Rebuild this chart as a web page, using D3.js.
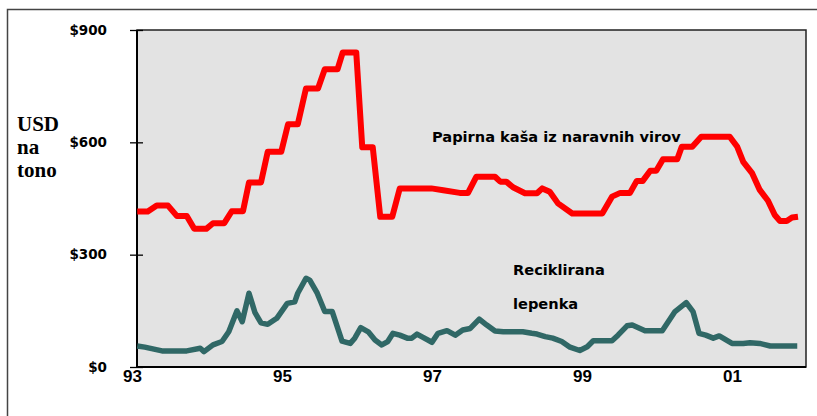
<!DOCTYPE html>
<html>
<head>
<meta charset="utf-8">
<script src="https://cdn.jsdelivr.net/npm/d3@7"></script>
<style>
  body { margin: 0; background: #fff; }
</style>
</head>
<body>
<div id="chart"></div>
<script>
// Data
const pulpYears = [1993.07, 1993.21, 1993.33, 1993.48, 1993.6, 1993.73, 1993.83, 1993.99, 1994.08, 1994.23,
  1994.33, 1994.48, 1994.56, 1994.72, 1994.81, 1994.99, 1995.08, 1995.21, 1995.32, 1995.48,
  1995.57, 1995.74, 1995.81, 1995.99, 1996.07, 1996.21, 1996.31, 1996.47, 1996.57, 1996.99,
  1997.15, 1997.37, 1997.48, 1997.59, 1997.84, 1997.91, 1997.99, 1998.08, 1998.24, 1998.4,
  1998.47, 1998.57, 1998.68, 1998.87, 1999.27, 1999.4, 1999.51, 1999.64, 1999.73, 1999.81,
  1999.91, 1999.99, 2000.08, 2000.27, 2000.33, 2000.47, 2000.59, 2000.97, 2001.07, 2001.15,
  2001.27, 2001.37, 2001.48, 2001.57, 2001.64, 2001.73, 2001.8, 2001.88];
const pulpPrices = [415, 415, 431, 431, 403, 403, 369, 369, 384, 384,
  416, 416, 493, 493, 575, 575, 648, 648, 744, 744,
  795, 795, 840, 840, 587, 587, 401, 401, 477, 477,
  472, 465, 465, 508, 508, 495, 495, 480, 464, 464,
  477, 468, 437, 410, 410, 455, 465, 465, 497, 497,
  524, 524, 555, 555, 588, 588, 615, 615, 588, 548,
  517, 473, 444, 406, 390, 390, 399, 401];

const boardYears = [1993.07, 1993.17, 1993.4, 1993.73, 1993.91, 1993.96, 1994.08, 1994.2, 1994.29, 1994.4,
  1994.47, 1994.56, 1994.64, 1994.72, 1994.81, 1994.93, 1995.07, 1995.17, 1995.21, 1995.32,
  1995.37, 1995.47, 1995.57, 1995.67, 1995.8, 1995.91, 1995.97, 1996.05, 1996.15, 1996.24,
  1996.33, 1996.41, 1996.48, 1996.57, 1996.67, 1996.73, 1996.8, 1996.88, 1997.0, 1997.08,
  1997.2, 1997.31, 1997.41, 1997.51, 1997.63, 1997.73, 1997.84, 1997.95, 1998.21, 1998.33,
  1998.4, 1998.51, 1998.61, 1998.73, 1998.84, 1998.97, 1999.07, 1999.15, 1999.4, 1999.48,
  1999.6, 1999.67, 1999.84, 2000.07, 2000.24, 2000.39, 2000.48, 2000.56, 2000.65, 2000.75,
  2000.83, 2001.0, 2001.15, 2001.24, 2001.37, 2001.51, 2001.87];
const boardPrices = [56, 53, 43, 43, 50, 41, 59, 68, 94, 150,
  121, 197, 145, 118, 114, 130, 170, 174, 197, 237,
  232, 197, 148, 148, 69, 63, 77, 105, 94, 72,
  59, 68, 90, 85, 77, 77, 88, 79, 66, 90,
  97, 85, 99, 103, 128, 112, 96, 94, 94, 90,
  88, 81, 77, 68, 53, 44, 54, 70, 70, 85,
  110, 112, 97, 97, 148, 172, 148, 90, 85, 77,
  83, 63, 63, 65, 63, 56, 56];

const xTickYears = [1993, 1995, 1997, 1999, 2001];
const xTickLabels = ["93", "95", "97", "99", "01"];
const yTicks = [0, 300, 600, 900];

// Set Dimensions
const width = 817;
const height = 416;
const plotLeft = 137;
const plotRight = 806;
const plotTop = 30;
const plotBottom = 367;

const svg = d3.select("#chart")
  .append("svg")
  .attr("width", width)
  .attr("height", height)
  .style("display", "block");

// outer frame (only top and left edges show)
svg.append("path")
  .attr("d", `M7.5,${height} V9.5 H${width}`)
  .attr("fill", "none")
  .attr("stroke", "#444")
  .attr("stroke-width", 1.5);

// Scales
const x = d3.scaleLinear()
  .domain([1993, 2002])
  .range([132, 807]);

const y = d3.scaleLinear()
  .domain([0, 900])
  .range([plotBottom, plotTop]);

// plot background
svg.append("rect")
  .attr("x", plotLeft)
  .attr("y", plotTop)
  .attr("width", plotRight - plotLeft)
  .attr("height", plotBottom - plotTop)
  .attr("fill", "#e3e3e3")
  .attr("stroke", "#222")
  .attr("stroke-width", 1.5);

// Y axis
const yAxis = svg.append("g")
  .attr("transform", `translate(${plotLeft + 6}, 0)`)
  .call(d3.axisLeft(y)
    .tickValues(yTicks)
    .tickSize(13)
    .tickPadding(23)
    .tickFormat(d => "$" + d));
yAxis.select(".domain").remove();
yAxis.selectAll("line").attr("stroke", "#000").attr("stroke-width", 1.3);
yAxis.selectAll("text")
  .style("font-family", "'DejaVu Sans', Verdana, sans-serif")
  .style("font-weight", "bold")
  .style("font-size", "13.5px")
  .attr("fill", "#000");

// X axis (labels only)
const xAxis = svg.append("g")
  .attr("transform", `translate(0, ${plotBottom})`)
  .call(d3.axisBottom(x)
    .tickValues(xTickYears)
    .tickSize(0)
    .tickPadding(3)
    .tickFormat((d, i) => xTickLabels[i]));
xAxis.select(".domain").remove();
xAxis.selectAll("text")
  .style("font-family", "'Liberation Sans', Arial, sans-serif")
  .style("font-weight", "bold")
  .style("font-size", "17px")
  .attr("fill", "#000");

// axis lines
svg.append("line")
  .attr("x1", plotLeft).attr("x2", plotLeft)
  .attr("y1", plotTop).attr("y2", plotBottom + 1)
  .attr("stroke", "#000").attr("stroke-width", 2);
svg.append("line")
  .attr("x1", plotLeft - 1).attr("x2", plotRight)
  .attr("y1", plotBottom).attr("y2", plotBottom)
  .attr("stroke", "#000").attr("stroke-width", 2);

// Lines
const line = d3.line()
  .x(d => x(d[0]))
  .y(d => y(d[1]));

svg.append("path")
  .datum(boardYears.map((d, i) => [d, boardPrices[i]]))
  .attr("d", line)
  .attr("fill", "none")
  .attr("stroke", "#306866")
  .attr("stroke-width", 5.5)
  .attr("stroke-linejoin", "round");

svg.append("path")
  .datum(pulpYears.map((d, i) => [d, pulpPrices[i]]))
  .attr("d", line)
  .attr("fill", "none")
  .attr("stroke", "#ff0000")
  .attr("stroke-width", 6)
  .attr("stroke-linejoin", "round");

// Series labels
const labelFont = "'DejaVu Sans', Verdana, sans-serif";
svg.append("text")
  .attr("x", 432)
  .attr("y", 141.5)
  .style("font-family", labelFont)
  .style("font-weight", "bold")
  .style("font-size", "14.6px")
  .text("Papirna kaša iz naravnih virov");

svg.append("text")
  .attr("x", 513)
  .attr("y", 275)
  .style("font-family", labelFont)
  .style("font-weight", "bold")
  .style("font-size", "14.6px")
  .text("Reciklirana");

svg.append("text")
  .attr("x", 513)
  .attr("y", 309)
  .style("font-family", labelFont)
  .style("font-weight", "bold")
  .style("font-size", "14.6px")
  .text("lepenka");

// Y axis title
const yTitle = svg.append("text")
  .attr("x", 17)
  .attr("y", 131)
  .style("font-family", "'Liberation Serif', 'Times New Roman', serif")
  .style("font-weight", "bold")
  .style("font-size", "21px");
["USD", "na", "tono"].forEach((t, i) => {
  yTitle.append("tspan")
    .attr("x", 17)
    .attr("dy", i === 0 ? 0 : 23)
    .text(t);
});
</script>
</body>
</html>
